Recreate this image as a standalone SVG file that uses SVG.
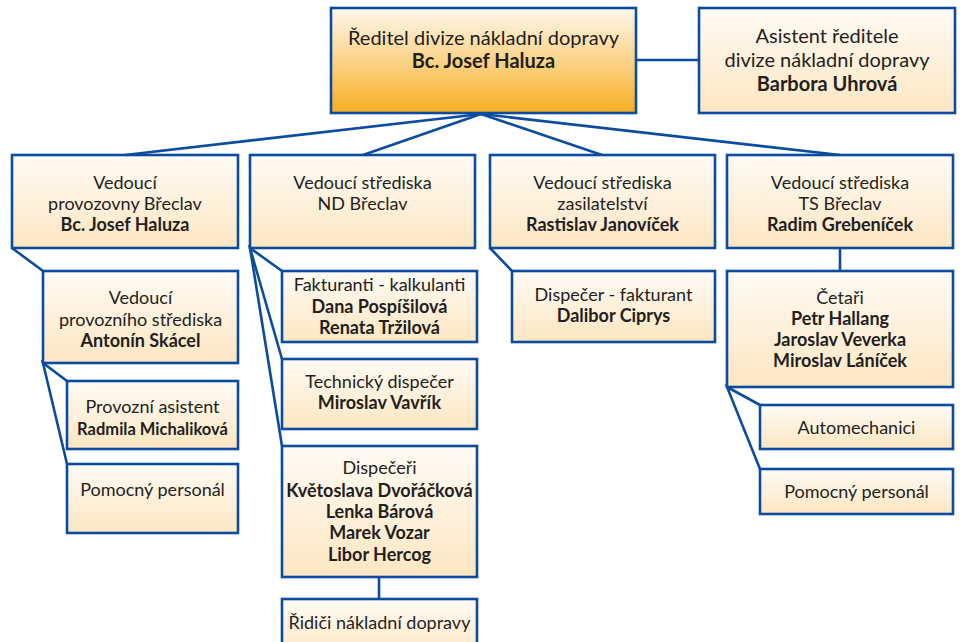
<svg xmlns="http://www.w3.org/2000/svg" width="960" height="642" viewBox="0 0 960 642">
<defs>
<linearGradient id="gl" x1="0" y1="0" x2="0" y2="1">
<stop offset="0" stop-color="#fffbf5"/>
<stop offset="1" stop-color="#fde6c2"/>
</linearGradient>
<linearGradient id="go" x1="0" y1="0" x2="0" y2="1">
<stop offset="0" stop-color="#fff8ee"/>
<stop offset="1" stop-color="#f7ae22"/>
</linearGradient>
<style>
rect{stroke:#0b4c9e;stroke-width:2.6}
.n rect{fill:url(#gl)}
#director rect{fill:url(#go)}
text{font-family:Lato,"Liberation Sans",sans-serif;fill:#231f20;text-anchor:middle;font-size:18px}
.b{font-weight:bold}
.t{font-size:20px}
.s{font-size:16.5px}
#connectors{stroke:#0b4c9e;stroke-width:2.6;fill:none}
</style>
</defs>
<g id="connectors">
<line x1="636" y1="60" x2="699" y2="60"/>
<line x1="481" y1="114" x2="125" y2="155"/>
<line x1="481" y1="114" x2="363" y2="155"/>
<line x1="481" y1="114" x2="602" y2="155"/>
<line x1="481" y1="114" x2="840" y2="155"/>
<polyline points="43,271 12,248"/>
<polyline points="67,381 43,363 67,464"/>
<polyline points="282,271 250,248 282,359"/>
<line x1="250" y1="248" x2="282" y2="446"/>
<line x1="379" y1="577" x2="379" y2="599"/>
<line x1="490" y1="248" x2="512" y2="271"/>
<line x1="840" y1="248" x2="840" y2="271"/>
<polyline points="760,405 727,387 760,469"/>
</g>
<g id="director" class="n">
<rect x="331" y="8" width="305" height="105"/>
<text class="t" x="483.5" y="45">Ředitel divize nákladní dopravy</text>
<text class="t b" x="483.5" y="68">Bc. Josef Haluza</text>
</g>
<g id="assistant" class="n">
<rect x="699" y="8" width="256" height="105"/>
<text class="t" x="827" y="43">Asistent ředitele</text>
<text class="t" x="827" y="67">divize nákladní dopravy</text>
<text class="t b" x="827" y="91">Barbora Uhrová</text>
</g>
<g id="breclav" class="n">
<rect x="12" y="155" width="226" height="93"/>
<text x="125" y="189">Vedoucí</text>
<text x="125" y="210">provozovny Břeclav</text>
<text class="b" x="125" y="231">Bc. Josef Haluza</text>
</g>
<g id="nd" class="n">
<rect x="250" y="155" width="225" height="93"/>
<text x="362.5" y="189">Vedoucí střediska</text>
<text x="362.5" y="210">ND Břeclav</text>
</g>
<g id="zasilatelstvi" class="n">
<rect x="490" y="155" width="225" height="93"/>
<text x="602.5" y="189">Vedoucí střediska</text>
<text x="602.5" y="210">zasilatelství</text>
<text class="b" x="602.5" y="231">Rastislav Janovíček</text>
</g>
<g id="ts" class="n">
<rect x="727" y="155" width="226" height="93"/>
<text x="840" y="189">Vedoucí střediska</text>
<text x="840" y="210">TS Břeclav</text>
<text class="b" x="840" y="231">Radim Grebeníček</text>
</g>
<g id="provozni" class="n">
<rect x="43" y="271" width="195" height="92"/>
<text x="140.5" y="304">Vedoucí</text>
<text x="140.5" y="326">provozního střediska</text>
<text class="b" x="140.5" y="347">Antonín Skácel</text>
</g>
<g id="asistent2" class="n">
<rect x="67" y="381" width="171" height="68"/>
<text x="152.5" y="413">Provozní asistent</text>
<text class="b s" x="152.5" y="435">Radmila Michaliková</text>
</g>
<g id="pomocny1" class="n">
<rect x="67" y="464" width="171" height="69"/>
<text x="152.5" y="496">Pomocný personál</text>
</g>
<g id="fakturanti" class="n">
<rect x="282" y="271" width="195" height="71"/>
<text x="379.5" y="291">Fakturanti - kalkulanti</text>
<text class="b" x="379.5" y="313">Dana Pospíšilová</text>
<text class="b" x="379.5" y="334">Renata Tržilová</text>
</g>
<g id="technicky" class="n">
<rect x="282" y="359" width="195" height="70"/>
<text x="379.5" y="388">Technický dispečer</text>
<text class="b" x="379.5" y="409">Miroslav Vavřík</text>
</g>
<g id="dispeceri" class="n">
<rect x="282" y="446" width="195" height="131"/>
<text x="379.5" y="474">Dispečeři</text>
<text class="b" x="379.5" y="497">Květoslava Dvořáčková</text>
<text class="b" x="379.5" y="518">Lenka Bárová</text>
<text class="b" x="379.5" y="539">Marek Vozar</text>
<text class="b" x="379.5" y="561">Libor Hercog</text>
</g>
<g id="ridici" class="n">
<rect x="282" y="599" width="195" height="60"/>
<text x="379.5" y="629">Řidiči nákladní dopravy</text>
</g>
<g id="dispecer-fakturant" class="n">
<rect x="512" y="271" width="203" height="71"/>
<text x="613.5" y="301">Dispečer - fakturant</text>
<text class="b" x="613.5" y="322">Dalibor Ciprys</text>
</g>
<g id="cetari" class="n">
<rect x="727" y="271" width="226" height="116"/>
<text x="840" y="304">Četaři</text>
<text class="b" x="840" y="325">Petr Hallang</text>
<text class="b" x="840" y="346">Jaroslav Veverka</text>
<text class="b" x="840" y="367">Miroslav Láníček</text>
</g>
<g id="automechanici" class="n">
<rect x="760" y="405" width="193" height="44"/>
<text x="856.5" y="434">Automechanici</text>
</g>
<g id="pomocny2" class="n">
<rect x="760" y="469" width="193" height="45"/>
<text x="856.5" y="498">Pomocný personál</text>
</g>
</svg>
